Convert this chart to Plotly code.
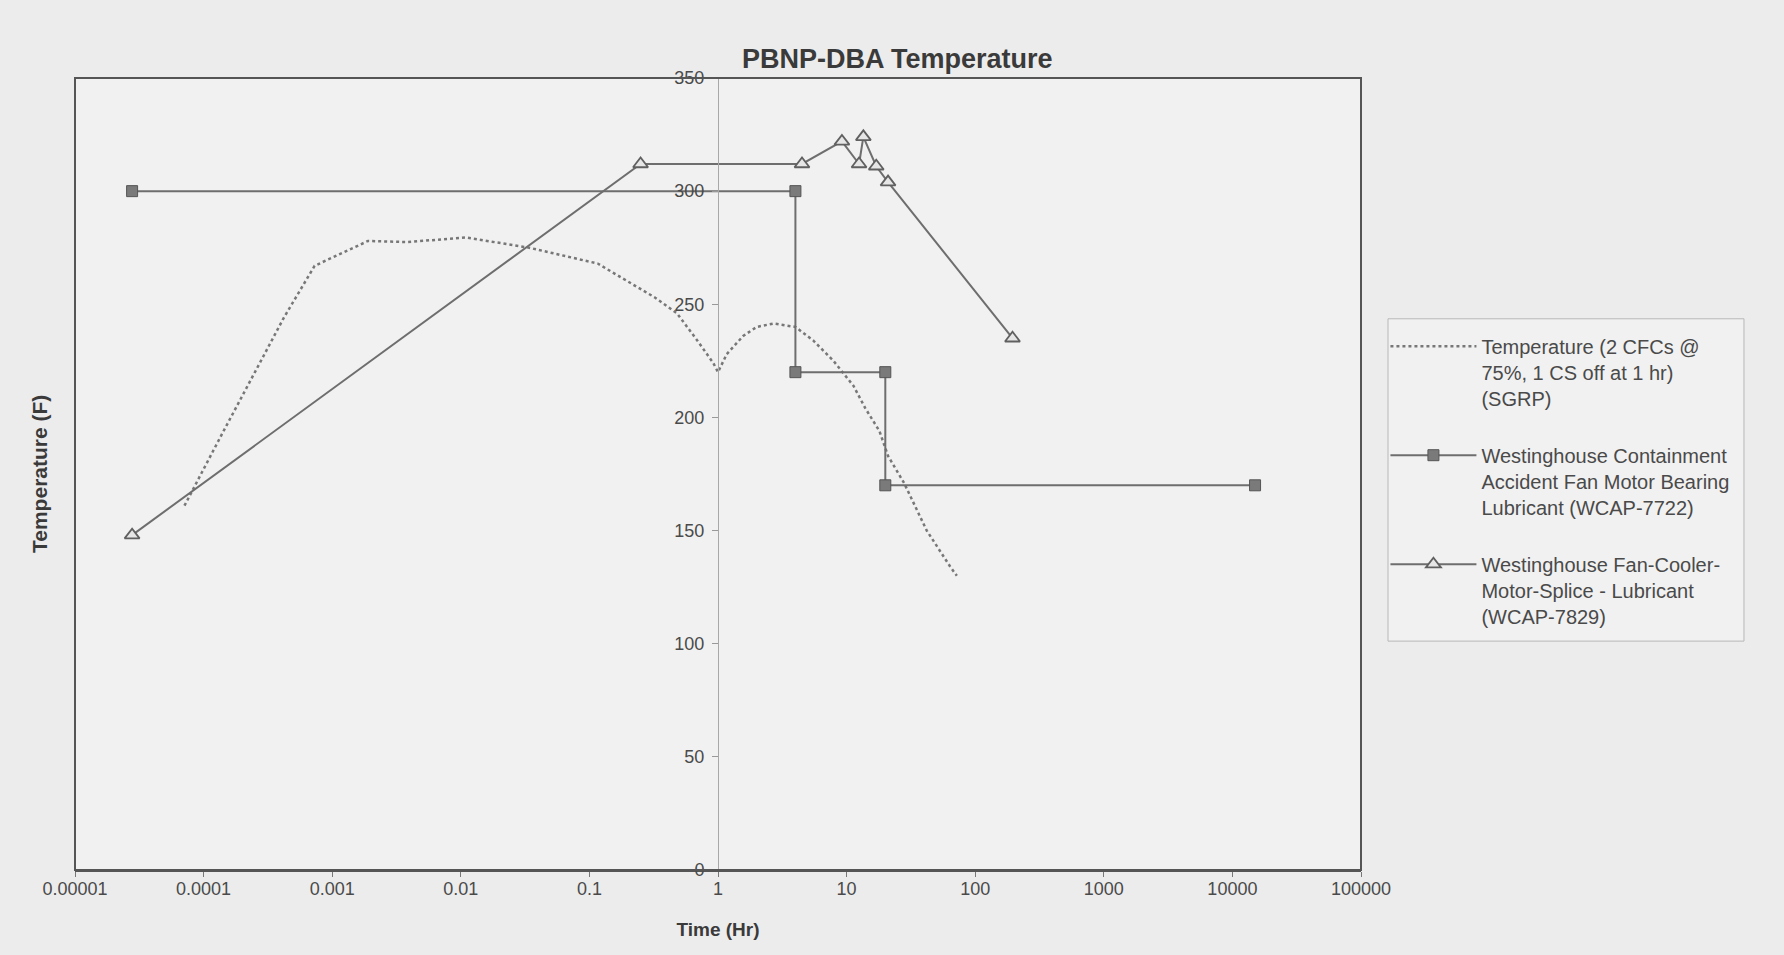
import plotly.graph_objects as go

# ---- data ----
temp_x = [7.1e-5, 9.3e-5, 1.4e-4, 2.4e-4, 4.2e-4, 7.3e-4, 9.5e-4, 1.9e-3, 3.8e-3,
          1.1e-2, 3.4e-2, 0.116, 0.323, 0.48, 0.69, 0.92, 1.0, 1.17, 1.57, 2.0,
          2.7, 4.0, 5.5, 7.9, 11.3, 14, 18, 21, 28, 42, 64, 72]
temp_y = [161, 174, 193, 218, 244, 267, 270, 278, 277.5,
          279.5, 275, 268, 253, 246, 234, 224, 220, 228, 236, 240,
          241.5, 240, 234, 225, 214, 204, 194, 183, 171, 150, 134, 130]

bearing_x = [2.78e-5, 4, 4, 20, 20, 15000]
bearing_y = [300, 300, 220, 220, 170, 170]

splice_x = [2.78e-5, 0.25, 4.5, 9.2, 12.5, 13.5, 17, 21, 195]
splice_y = [148, 312, 312, 322, 312, 324, 311, 304, 235]

x_tickvals = [1e-5, 1e-4, 1e-3, 1e-2, 1e-1, 1, 10, 100, 1000, 10000, 100000]
x_ticktext = ["0.00001", "0.0001", "0.001", "0.01", "0.1", "1", "10", "100",
              "1000", "10000", "100000"]
y_tickvals = [0, 50, 100, 150, 200, 250, 300, 350]

names = [
    "Temperature (2 CFCs @<br>75%, 1 CS off at 1 hr)<br>(SGRP)",
    "Westinghouse Containment<br>Accident Fan Motor Bearing<br>Lubricant (WCAP-7722)",
    "Westinghouse Fan-Cooler-<br>Motor-Splice - Lubricant<br>(WCAP-7829)",
]

FONT = "Liberation Sans, Arial, sans-serif"
TXT = "#4a4a4a"
LINE = "#6e6e6e"

fig = go.Figure()
fig.add_trace(go.Scatter(
    x=temp_x, y=temp_y, mode="lines", name=names[0], legendgroup="a",
    line=dict(color="#777777", width=2.5, dash="dot"),
))
fig.add_trace(go.Scatter(
    x=bearing_x, y=bearing_y, mode="lines+markers", name=names[1], legendgroup="b",
    line=dict(color=LINE, width=2),
    marker=dict(symbol="square", size=11, color="#7a7a7a",
                line=dict(color="#555555", width=1)),
))
fig.add_trace(go.Scatter(
    x=splice_x, y=splice_y, mode="lines+markers", name=names[2], legendgroup="c",
    line=dict(color=LINE, width=2),
    marker=dict(symbol="triangle-up", size=13, color="#e6e6e6",
                line=dict(color="#606060", width=1.8)),
))

fig.update_layout(
    width=1784, height=955,
    margin=dict(l=75, r=423, t=78, b=85),
    paper_bgcolor="#ececec",
    plot_bgcolor="#f1f1f1",
    font=dict(family=FONT, color=TXT, size=17),
    title=dict(text="<b>PBNP-DBA Temperature</b>", x=0.503, xanchor="center",
               y=1 - 59 / 955, yanchor="middle",
               font=dict(size=27, color="#3a3a3a", family=FONT)),
    showlegend=True,
    legend=dict(
        x=1.019, xanchor="left", y=0.686, yanchor="top",
        bgcolor="rgba(0,0,0,0)", borderwidth=0,
        font=dict(size=20, color=TXT, family=FONT),
        traceorder="grouped", tracegroupgap=28, itemwidth=86, valign="top",
    ),
    xaxis=dict(
        type="log", range=[-5, 5], tickmode="array",
        tickvals=x_tickvals, ticktext=x_ticktext,
        showgrid=False, zeroline=False,
        showline=True, linecolor="#555555", linewidth=2,
        ticks="outside", ticklen=5, tickcolor="#777777",
        ticklabelstandoff=-4,
        tickfont=dict(size=18, color=TXT),
        title=dict(text="<b>Time (Hr)</b>", font=dict(size=19, color="#3a3a3a"),
                   standoff=25),
    ),
    yaxis=dict(
        range=[0, 350], tickmode="array", tickvals=y_tickvals,
        anchor="free", position=0.5,
        showgrid=False, zeroline=False,
        showline=True, linecolor="#a8a8a8", linewidth=1,
        ticks="outside", ticklen=6, tickcolor="#999999",
        ticklabelstandoff=4,
        tickfont=dict(size=18, color=TXT),
    ),
    shapes=[
        dict(type="rect", xref="paper", yref="paper", x0=0, x1=1, y0=0, y1=1,
             line=dict(color="#555555", width=2), layer="above"),
        dict(type="rect", xref="paper", yref="paper",
             x0=1.021, x1=1.2978, y0=0.289, y1=0.696,
             line=dict(color="#b8b8b8", width=1), fillcolor="#f1f1f1",
             layer="below"),
    ],
    annotations=[dict(text="<b>Temperature (F)</b>", xref="paper", yref="paper",
                      x=(39 - 75) / 1286, y=0.5, xanchor="center", yanchor="middle",
                      textangle=-90, showarrow=False,
                      font=dict(size=21, color="#3a3a3a", family=FONT))],
)

fig.write_html("out.html")
